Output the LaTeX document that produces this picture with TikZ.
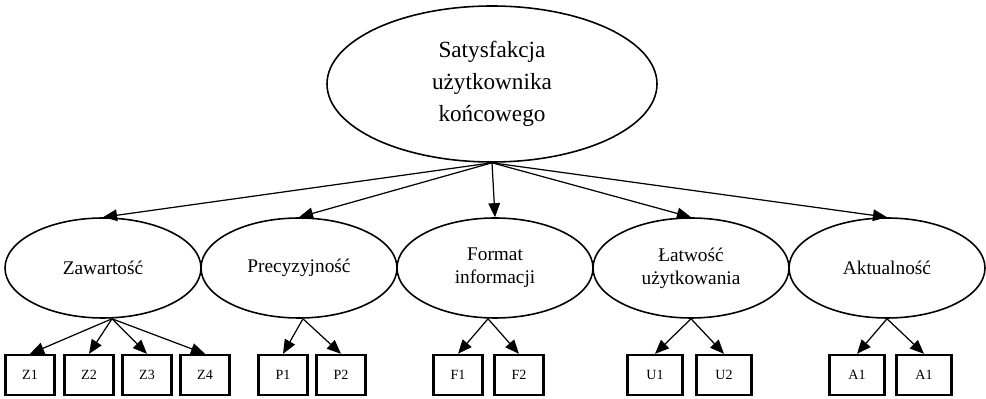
\documentclass[tikz,border=0pt]{standalone}
\usepackage{fontspec}
\setmainfont{Liberation Serif}
\usetikzlibrary{shapes.geometric, arrows.meta}
\tikzstyle{goal}   = [ellipse, minimum width=6.6cm, minimum height=3.12cm, inner sep=0pt, align=center, draw=black, line width=.9pt, font=\fontsize{13.2}{18.2}\selectfont]
\tikzstyle{factor} = [ellipse, minimum width=3.92cm, minimum height=2cm, inner sep=0pt, align=center, draw=black, line width=.9pt, font=\fontsize{11}{13.1}\selectfont]
\tikzstyle{item}   = [rectangle, minimum width=.98cm, minimum height=.8cm, text centered, draw=black, line width=1.3pt, font=\fontsize{8}{9}\selectfont]
\tikzstyle{arrow}  = [line width=.7pt,->,>={Triangle[length=8pt, width=6.6pt]}]

\begin{document}
\begin{tikzpicture}[node distance=3.92cm]
      \useasboundingbox (0,0) rectangle (19.72,-7.98);

      \node (sat) [goal] at (9.84,-1.68) {Satysfakcja\\użytkownika\\końcowego};

      \node (fmt) [factor, below of=sat, node distance=3.68cm, xshift=.06cm] {Format\\informacji};
      \node (prc) [factor, left of=fmt]  {Precyzyjność};
      \node (zaw) [factor, left of=prc]  {Zawartość};
      \node (lat) [factor, right of=fmt] {Łatwość\\użytkowania};
      \node (akt) [factor, right of=lat] {Aktualność};

      \node (z1) [item, below of=zaw, node distance=2.14cm, xshift=-1.46cm] {Z1};
      \node (z2) [item, below of=zaw, node distance=2.14cm, xshift=-.28cm]  {Z2};
      \node (z3) [item, below of=zaw, node distance=2.14cm, xshift=.88cm]   {Z3};
      \node (z4) [item, below of=zaw, node distance=2.14cm, xshift=2.04cm]  {Z4};

      \node (p1) [item, below of=prc, node distance=2.14cm, xshift=-.32cm] {P1};
      \node (p2) [item, below of=prc, node distance=2.14cm, xshift=.84cm]  {P2};

      \node (f1) [item, below of=fmt, node distance=2.14cm, xshift=-.74cm] {F1};
      \node (f2) [item, below of=fmt, node distance=2.14cm, xshift=.48cm]  {F2};

      \node (u1) [item, minimum width=1.1cm, below of=lat, node distance=2.14cm, xshift=-.72cm] {U1};
      \node (u2) [item, minimum width=1.1cm, below of=lat, node distance=2.14cm, xshift=.66cm]  {U2};

      \node (a1) [item, minimum width=1.1cm, below of=akt, node distance=2.14cm, xshift=-.6cm] {A1};
      \node (a2) [item, minimum width=1.1cm, below of=akt, node distance=2.14cm, xshift=.74cm] {A1};

      \draw [arrow] (sat.south) -- (zaw.north);
      \draw [arrow] (sat.south) -- (prc.north);
      \draw [arrow] (sat.south) -- (fmt.north);
      \draw [arrow] (sat.south) -- (lat.north);
      \draw [arrow] (sat.south) -- (akt.north);

      \draw [arrow] ([xshift=.18cm]zaw.south) -- (z1.north);
      \draw [arrow] ([xshift=.18cm]zaw.south) -- (z2.north);
      \draw [arrow] ([xshift=.18cm]zaw.south) -- (z3.north);
      \draw [arrow] ([xshift=.18cm]zaw.south) -- (z4.north);

      \draw [arrow] ([xshift=.08cm]prc.south) -- (p1.north);
      \draw [arrow] ([xshift=.08cm]prc.south) -- (p2.north);

      \draw [arrow] ([xshift=-.14cm]fmt.south) -- (f1.north);
      \draw [arrow] ([xshift=-.14cm]fmt.south) -- (f2.north);

      \draw [arrow] (lat.south) -- (u1.north);
      \draw [arrow] (lat.south) -- (u2.north);

      \draw [arrow] (akt.south) -- (a1.north);
      \draw [arrow] (akt.south) -- (a2.north);

    \end{tikzpicture}
\end{document}
